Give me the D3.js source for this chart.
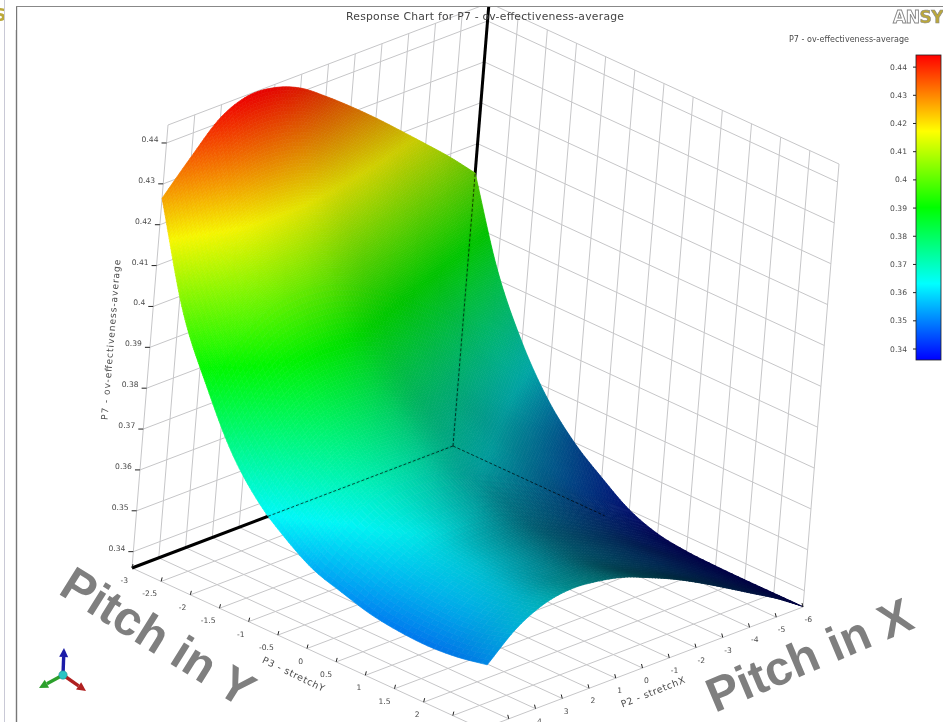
<!DOCTYPE html>
<html>
<head>
<meta charset="utf-8">
<style>
  html, body { margin: 0; padding: 0; background: #fff; overflow: hidden; }
  svg { display: block; filter: blur(0.45px); }
  text { font-family: "DejaVu Sans", sans-serif; }
  .overlay { font-family: "Liberation Sans", Arial, sans-serif; font-weight: bold; font-size: 48px; fill: #7f7f7f; }
</style>
<script src="https://cdn.jsdelivr.net/npm/d3@7"></script>
</head>
<body>
<div id="chart"></div>
<script>
// P2 - stretchX, P3 - stretchY
const stretchX = [-6, -5, -4, -3, -2, -1, 0, 1, 2, 3, 4, 5, 6];
const stretchY = [-3, -2.5, -2, -1.5, -1, -0.5, 0, 0.5, 1, 1.5, 2, 2.5, 3];
const zTicks = [0.34, 0.35, 0.36, 0.37, 0.38, 0.39, 0.4, 0.41, 0.42, 0.43, 0.44];

// P7, one row per stretchY, one column per stretchX
const effectiveness = [
  [.4028, .4091, .4149, .4206, .4262, .4315, .4365, .4410, .4436, .4441, .4412, .4342, .4265],
  [.3823, .3880, .3933, .3985, .4034, .4079, .4121, .4159, .4179, .4184, .4164, .4105, .4020],
  [.3680, .3734, .3782, .3832, .3877, .3921, .3960, .3995, .4015, .4018, .4001, .3946, .3867],
  [.3574, .3625, .3672, .3718, .3761, .3802, .3838, .3871, .3889, .3892, .3872, .3817, .3739],
  [.3500, .3549, .3594, .3638, .3680, .3719, .3754, .3785, .3802, .3804, .3784, .3730, .3653],
  [.3447, .3493, .3537, .3579, .3620, .3656, .3690, .3720, .3736, .3739, .3720, .3670, .3596],
  [.3401, .3446, .3487, .3529, .3568, .3604, .3636, .3666, .3682, .3685, .3669, .3621, .3553],
  [.3375, .3418, .3458, .3498, .3535, .3570, .3602, .3630, .3646, .3650, .3636, .3593, .3530],
  [.3365, .3406, .3443, .3481, .3516, .3549, .3580, .3607, .3622, .3625, .3612, .3570, .3510],
  [.3362, .3401, .3439, .3476, .3510, .3542, .3571, .3597, .3612, .3615, .3601, .3560, .3500],
  [.3361, .3400, .3437, .3473, .3506, .3538, .3566, .3592, .3607, .3609, .3596, .3556, .3497],
  [.3361, .3401, .3438, .3475, .3508, .3540, .3569, .3596, .3611, .3614, .3601, .3561, .3503],
  [.3361, .3405, .3443, .3481, .3518, .3552, .3581, .3607, .3622, .3628, .3616, .3580, .3517]
];

const zMin = 0.3361, zMax = 0.4443;
const zFloor = 0.336, zTop = 0.4444;

const width = 943, height = 722;

const svg = d3.select('#chart').append('svg')
  .attr('width', width).attr('height', height);

svg.append('defs').append('clipPath').attr('id', 'frame')
  .append('rect').attr('x', 17).attr('y', 7).attr('width', width).attr('height', height);

// rainbow colormap, same for surface and legend
const color = d3.scaleLinear()
  .domain(d3.range(5).map(i => zMin + (zMax - zMin) * i / 4))
  .range(['#0000ff', '#00ffff', '#00ff00', '#ffff00', '#ff0000']);

// box is drawn with a parallel projection: each axis only adds its own offset
const origin = [453, 446];
const xAxisX = d3.scaleLinear().domain([-6, 6]).range([0, -321]);
const xAxisY = d3.scaleLinear().domain([-6, 6]).range([0, 122]);
const yAxisX = d3.scaleLinear().domain([-3, 3]).range([0, 350]);
const yAxisY = d3.scaleLinear().domain([-3, 3]).range([0, 161]);
const zAxisX = d3.scaleLinear().domain([zFloor, zTop]).range([0, 36]);
const zAxisY = d3.scaleLinear().domain([zFloor, zTop]).range([0, -443]);

function project(x, y, z) {
  return [
    origin[0] + xAxisX(x) + yAxisX(y) + zAxisX(z),
    origin[1] + xAxisY(x) + yAxisY(y) + zAxisY(z)
  ];
}

const line = d3.line();
const chart = svg.append('g').attr('clip-path', 'url(#frame)');

// frame lines
svg.append('line').attr('x1', 4.5).attr('x2', 4.5).attr('y1', 0).attr('y2', height)
  .attr('stroke', '#c9c9d6').attr('stroke-width', 1);
svg.append('line').attr('x1', 16.5).attr('x2', 16.5).attr('y1', 6).attr('y2', height)
  .attr('stroke', '#777').attr('stroke-width', 1.4);
svg.append('line').attr('x1', 16).attr('x2', width).attr('y1', 6.5).attr('y2', 6.5)
  .attr('stroke', '#888').attr('stroke-width', 1);

// walls and floor
const gridSegments = [];
stretchX.forEach(x => {
  gridSegments.push([project(x, -3, zFloor), project(x, -3, zTop)]);
  gridSegments.push([project(x, -3, zFloor), project(x, 3, zFloor)]);
});
stretchY.forEach(y => {
  gridSegments.push([project(-6, y, zFloor), project(-6, y, zTop)]);
  gridSegments.push([project(-6, y, zFloor), project(6, y, zFloor)]);
});
zTicks.concat([zTop]).forEach(z => {
  gridSegments.push([project(6, -3, z), project(-6, -3, z)]);
  gridSegments.push([project(-6, -3, z), project(-6, 3, z)]);
});

chart.append('g').selectAll('path').data(gridSegments).join('path')
  .attr('d', d => line(d))
  .attr('fill', 'none')
  .attr('stroke', '#c6c6c8')
  .attr('stroke-width', 1);

// title sits under the thick axis
svg.append('text')
  .attr('x', 485).attr('y', 20)
  .attr('text-anchor', 'middle')
  .attr('font-size', 10.8)
  .attr('textLength', 278)
  .attr('fill', '#444')
  .text('Response Chart for P7 - ov-effectiveness-average');

// thick axes, the surface covers them
chart.append('path')
  .attr('d', line([project(-6, -3, zFloor), project(-6, -3, zTop)]))
  .attr('stroke', '#000').attr('stroke-width', 3);
chart.append('path')
  .attr('d', line([project(-6, -3, zFloor), project(6, -3, zFloor)]))
  .attr('stroke', '#000').attr('stroke-width', 3.2);

// surface lookup: Catmull-Rom between the table values
const xIndex = d3.scaleLinear().domain([-6, 6]).range([0, stretchX.length - 1]);
const yIndex = d3.scaleLinear().domain([-3, 3]).range([0, stretchY.length - 1]);

function cubic(p0, p1, p2, p3, t) {
  return 0.5 * (2 * p1 + (p2 - p0) * t + (2 * p0 - 5 * p1 + 4 * p2 - p3) * t * t + (3 * p1 - p0 - 3 * p2 + p3) * t * t * t);
}

function along(arr, f) {
  const n = arr.length;
  const i = Math.min(Math.floor(f), n - 2);
  const t = f - i;
  const p0 = i > 0 ? arr[i - 1] : 2 * arr[0] - arr[1];
  const p3 = i < n - 2 ? arr[i + 2] : 2 * arr[n - 1] - arr[n - 2];
  return cubic(p0, arr[i], arr[i + 1], p3, t);
}

function surface(x, y) {
  const fx = xIndex(x);
  return along(effectiveness.map(row => along(row, fx)), yIndex(y));
}

// lighting on normals in box units, wide differences keep it from rippling
const lightDir = [0.85, 0.63, 0.33];
function shade(x, y) {
  const ex = 0.8, ey = 0.35;
  const x0 = Math.max(x - ex, -6), x1 = Math.min(x + ex, 6);
  const y0 = Math.max(y - ey, -3), y1 = Math.min(y + ey, 3);
  const dzdx = (surface(x1, y) - surface(x0, y)) / (x1 - x0);
  const dzdy = (surface(x, y1) - surface(x, y0)) / (y1 - y0);
  const nx = -dzdx / (zTop - zFloor) * 12;
  const ny = -dzdy / (zTop - zFloor) * 6;
  const len = Math.sqrt(nx * nx + ny * ny + 1);
  const dot = (nx * lightDir[0] + ny * lightDir[1] + lightDir[2]) / len;
  const b = Math.max(0.25, 0.3 + dot);
  // ease into full brightness, a hard clamp leaves a crease
  return b < 0.75 ? b : 0.75 + 0.25 * (1 - Math.exp(-(b - 0.75) / 0.25));
}

// mesh is denser where the surface is steep
const stepsX = 100, stepsY = 150;
const meshX = d3.scaleLinear().domain([0, stepsX]).range([-6, 6]);
const meshY = d3.scaleLinear().domain([0, 70, 120, stepsY]).range([-3, -2, 0, 3]);

// back to front: low x and low y first
const cells = [];
d3.range(stepsX).forEach(i => {
  d3.range(stepsY).forEach(j => {
    cells.push([i, j]);
  });
});

function corner(i, j) {
  const x = meshX(i), y = meshY(j);
  return project(x, y, surface(x, y));
}

function cellColor(d) {
  const x = meshX(d[0] + 0.5), y = meshY(d[1] + 0.5);
  const c = d3.rgb(color(Math.max(zMin, Math.min(zMax, surface(x, y)))));
  const b = shade(x, y);
  return d3.rgb(c.r * b, c.g * b, c.b * b).formatRgb();
}

chart.append('g').attr('class', 'surface').selectAll('path').data(cells).join('path')
  .attr('d', d => line([corner(d[0], d[1]), corner(d[0] + 1, d[1]), corner(d[0] + 1, d[1] + 1), corner(d[0], d[1] + 1)]) + 'Z')
  .attr('fill', cellColor)
  .attr('stroke', cellColor)
  .attr('stroke-width', 0.7);

// hidden axes show through as dashes
const dashed = [
  [project(-6, -3, zFloor), project(-6, -3, surface(-6, -3))],
  [project(-6, -3, zFloor), project(1, -3, zFloor)],
  [project(-6, -3, zFloor), project(-6, -0.4, zFloor)]
];
chart.append('g').selectAll('path').data(dashed).join('path')
  .attr('d', d => line(d))
  .attr('fill', 'none')
  .attr('stroke', '#000')
  .attr('stroke-opacity', 0.75)
  .attr('stroke-width', 0.9)
  .attr('stroke-dasharray', '3 2');

// z axis ticks and labels
const labelColor = '#4a4a4a';
const zAxis = svg.append('g');
zTicks.forEach(z => {
  const p = project(6, -3, z);
  zAxis.append('line')
    .attr('x1', p[0] - 5).attr('x2', p[0]).attr('y1', p[1]).attr('y2', p[1])
    .attr('stroke', '#222').attr('stroke-width', 1);
  zAxis.append('text')
    .attr('x', p[0] - 8).attr('y', p[1] - 1)
    .attr('text-anchor', 'end')
    .attr('font-size', 7.6)
    .attr('fill', labelColor)
    .text(String(z));
});

// floor ticks and labels, those past the bottom of the shot are skipped
const floorAxis = svg.append('g');
stretchY.forEach(y => {
  const p = project(6, y, zFloor);
  floorAxis.append('line')
    .attr('x1', p[0]).attr('x2', p[0] + 1).attr('y1', p[1]).attr('y2', p[1] - 4)
    .attr('stroke', '#222').attr('stroke-width', 1);
  if (p[1] + 15 > height + 6) return;
  floorAxis.append('text')
    .attr('x', p[0] - 4).attr('y', p[1] + 15)
    .attr('text-anchor', 'end')
    .attr('font-size', 7.6)
    .attr('fill', labelColor)
    .text(String(y));
});
stretchX.forEach(x => {
  const p = project(x, 3, zFloor);
  floorAxis.append('line')
    .attr('x1', p[0]).attr('x2', p[0] - 1).attr('y1', p[1]).attr('y2', p[1] - 4)
    .attr('stroke', '#222').attr('stroke-width', 1);
  if (p[1] + 15 > height + 6) return;
  floorAxis.append('text')
    .attr('x', p[0] + 1.5).attr('y', p[1] + 15)
    .attr('font-size', 7.6)
    .attr('fill', labelColor)
    .text(String(x));
});

// axis titles
function axisTitle(label, cx, cy, angle, length, size) {
  svg.append('text')
    .attr('transform', 'translate(' + cx + ',' + cy + ') rotate(' + angle + ')')
    .attr('text-anchor', 'middle')
    .attr('font-size', size)
    .attr('textLength', length)
    .attr('fill', labelColor)
    .text(label);
}
axisTitle('P7 - ov-effectiveness-average', 114, 340, -85.4, 161, 9.2);
axisTitle('P3 - stretchY', 292, 677, 25.8, 68, 9.4);
axisTitle('P2 - stretchX', 654, 695, -21.6, 68, 9.4);

// legend
const legendY = d3.scaleLinear().domain([zMin, zMax]).range([360, 55]);
const legendTicks = zTicks;
const grad = svg.select('defs').append('linearGradient')
  .attr('id', 'legendGrad')
  .attr('x1', 0).attr('x2', 0).attr('y1', 1).attr('y2', 0);
color.domain().forEach((v, i) => {
  grad.append('stop').attr('offset', (i / 4)).attr('stop-color', color(v));
});
svg.append('rect')
  .attr('x', 916).attr('y', legendY(zMax)).attr('width', 25).attr('height', legendY(zMin) - legendY(zMax))
  .attr('fill', 'url(#legendGrad)')
  .attr('stroke', '#222').attr('stroke-width', 0.8);
legendTicks.forEach(v => {
  svg.append('line')
    .attr('x1', 913).attr('x2', 916).attr('y1', legendY(v)).attr('y2', legendY(v))
    .attr('stroke', '#222').attr('stroke-width', 1);
  svg.append('text')
    .attr('x', 907).attr('y', legendY(v) + 2.5)
    .attr('text-anchor', 'end')
    .attr('font-size', 7.6)
    .attr('fill', labelColor)
    .text(String(v));
});
svg.append('text')
  .attr('x', 849).attr('y', 42)
  .attr('text-anchor', 'middle')
  .attr('font-size', 8)
  .attr('textLength', 120)
  .attr('fill', labelColor)
  .text('P7 - ov-effectiveness-average');

// logo, cut off by the edge like the screenshot
const logo = svg.append('text')
  .attr('x', 893).attr('y', 23)
  .attr('font-size', 17)
  .attr('font-weight', 'bold')
  .attr('letter-spacing', -0.5);
logo.append('tspan').attr('fill', '#fff').attr('stroke', '#888').attr('stroke-width', 0.9).text('AN');
logo.append('tspan').attr('fill', '#bba83a').attr('stroke', '#888').attr('stroke-width', 0.6).text('SY');

// scrap of the neighbouring logo at the left edge
svg.append('text')
  .attr('x', -6).attr('y', 21)
  .attr('font-size', 17)
  .attr('font-weight', 'bold')
  .attr('fill', '#bba83a')
  .text('S');
svg.append('rect').attr('x', 4).attr('y', 0).attr('width', 12).attr('height', 30).attr('fill', '#fff');
svg.append('line').attr('x1', 4.5).attr('x2', 4.5).attr('y1', 0).attr('y2', 30)
  .attr('stroke', '#c9c9d6');

// hand-written annotations
svg.append('text').attr('class', 'overlay')
  .attr('transform', 'translate(57,593) rotate(32)')
  .text('Pitch in Y');
svg.append('text').attr('class', 'overlay')
  .attr('transform', 'translate(715,713) rotate(-23)')
  .text('Pitch in X');

// orientation triad
const triad = svg.append('g').attr('transform', 'translate(63,675)');
const triadArms = [
  { name: 'z', tip: [1, -27], color: '#1c1ca8' },
  { name: 'y', tip: [-24, 13], color: '#2ca02c' },
  { name: 'x', tip: [23, 16], color: '#b02020' }
];
triadArms.forEach(a => {
  const len = Math.hypot(a.tip[0], a.tip[1]);
  const ux = a.tip[0] / len, uy = a.tip[1] / len;
  const hx = a.tip[0] - ux * 9, hy = a.tip[1] - uy * 9;
  triad.append('line')
    .attr('x1', 0).attr('y1', 0).attr('x2', hx).attr('y2', hy)
    .attr('stroke', a.color).attr('stroke-width', 3.4);
  triad.append('path')
    .attr('d', line([a.tip, [hx - uy * 4.5, hy + ux * 4.5], [hx + uy * 4.5, hy - ux * 4.5]]) + 'Z')
    .attr('fill', a.color);
});
triad.append('circle').attr('r', 4.2).attr('fill', '#2ac4c4').attr('stroke', '#1b7f7f').attr('stroke-width', 0.5);
</script>
</body>
</html>
